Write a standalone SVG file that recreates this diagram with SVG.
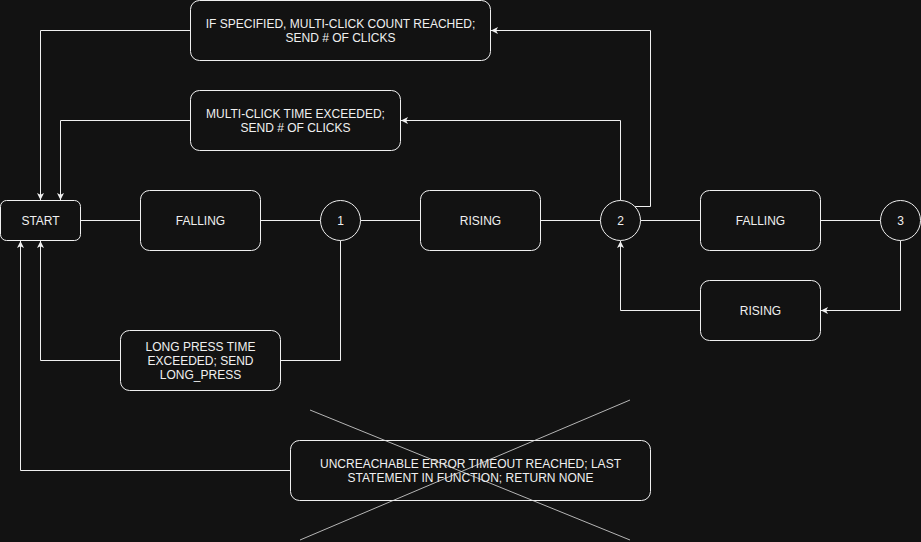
<svg xmlns="http://www.w3.org/2000/svg" width="921" height="542" viewBox="0 0 921 542">
<style>
.n{fill:#121212;stroke:#f0f0f0;stroke-width:1}
.t{fill:#f0f0f0;font-family:"Liberation Sans",Arial,sans-serif;font-size:12px;text-anchor:middle;dominant-baseline:central}
.c{fill:none;stroke:#f0f0f0;stroke-width:1}
.x{stroke:#e0e0e0;stroke-width:0.8}
</style>
<defs>
<marker id="a" markerWidth="10" markerHeight="10" refX="7" refY="3.5" orient="auto" markerUnits="userSpaceOnUse">
<path d="M0,0 L7,3.5 L0,7 L1.8,3.5 Z" fill="#f0f0f0"/>
</marker>
</defs>
<rect width="921" height="542" fill="#121212"/>
<g id="connectors">
<path class="c" d="M80.5,220.5 H140.5"/>
<path class="c" d="M260.5,220.5 H320.5"/>
<path class="c" d="M360.5,220.5 H420.5"/>
<path class="c" d="M540.5,220.5 H600.5"/>
<path class="c" d="M640.5,220.5 H700.5"/>
<path class="c" d="M820.5,220.5 H880.5"/>
<path class="c" d="M900.5,240.5 V310.5 H821" marker-end="url(#a)"/>
<path class="c" d="M700.5,310.5 H620.5 V241" marker-end="url(#a)"/>
<path class="c" d="M634.5,206.5 H650.5 V30.5 H491" marker-end="url(#a)"/>
<path class="c" d="M620.5,200.5 V120.5 H401" marker-end="url(#a)"/>
<path class="c" d="M190.5,30.5 H40.5 V200" marker-end="url(#a)"/>
<path class="c" d="M190.5,120.5 H60.5 V200" marker-end="url(#a)"/>
<path class="c" d="M340.5,240.5 V360.5 H280.5"/>
<path class="c" d="M120.5,360.5 H40.5 V241" marker-end="url(#a)"/>
<path class="c" d="M290.5,470.5 H20.5 V241" marker-end="url(#a)"/>
</g>
<g id="start"><rect class="n" x="0.5" y="200.5" width="80" height="40" rx="6"/><text class="t" x="40.5" y="220.5">START</text></g>
<g id="falling1"><rect class="n" x="140.5" y="190.5" width="120" height="60" rx="9"/><text class="t" x="200.5" y="220.5">FALLING</text></g>
<g id="state1"><circle class="n" cx="340.5" cy="220.5" r="20"/><text class="t" x="340.5" y="220.5">1</text></g>
<g id="rising1"><rect class="n" x="420.5" y="190.5" width="120" height="60" rx="9"/><text class="t" x="480.5" y="220.5">RISING</text></g>
<g id="state2"><circle class="n" cx="620.5" cy="220.5" r="20"/><text class="t" x="620.5" y="220.5">2</text></g>
<g id="falling2"><rect class="n" x="700.5" y="190.5" width="120" height="60" rx="9"/><text class="t" x="760.5" y="220.5">FALLING</text></g>
<g id="state3"><circle class="n" cx="900.5" cy="220.5" r="20"/><text class="t" x="900.5" y="220.5">3</text></g>
<g id="rising2"><rect class="n" x="700.5" y="280.5" width="120" height="60" rx="9"/><text class="t" x="760.5" y="310.5">RISING</text></g>
<g id="countReached"><rect class="n" x="190.5" y="0.5" width="300" height="60" rx="9"/><text class="t" x="340.5" y="23.5">IF SPECIFIED, MULTI-CLICK COUNT REACHED;</text><text class="t" x="340.5" y="37.5">SEND # OF CLICKS</text></g>
<g id="timeExceeded"><rect class="n" x="190.5" y="90.5" width="210" height="60" rx="9"/><text class="t" x="295.5" y="113.5">MULTI-CLICK TIME EXCEEDED;</text><text class="t" x="295.5" y="127.5">SEND # OF CLICKS</text></g>
<g id="longPress"><rect class="n" x="120.5" y="330.5" width="160" height="60" rx="9"/><text class="t" x="200.5" y="346.5">LONG PRESS TIME</text><text class="t" x="200.5" y="360.5">EXCEEDED; SEND</text><text class="t" x="200.5" y="374.5">LONG_PRESS</text></g>
<g id="unreachable"><rect class="n" x="290.5" y="440.5" width="360" height="60" rx="9"/><text class="t" x="470.5" y="463.5">UNCREACHABLE ERROR TIMEOUT REACHED; LAST</text><text class="t" x="470.5" y="477.5">STATEMENT IN FUNCTION; RETURN NONE</text></g>
<g id="cross">
<line class="x" x1="310" y1="410" x2="630" y2="540"/>
<line class="x" x1="300" y1="540" x2="630" y2="400"/>
</g>
</svg>
